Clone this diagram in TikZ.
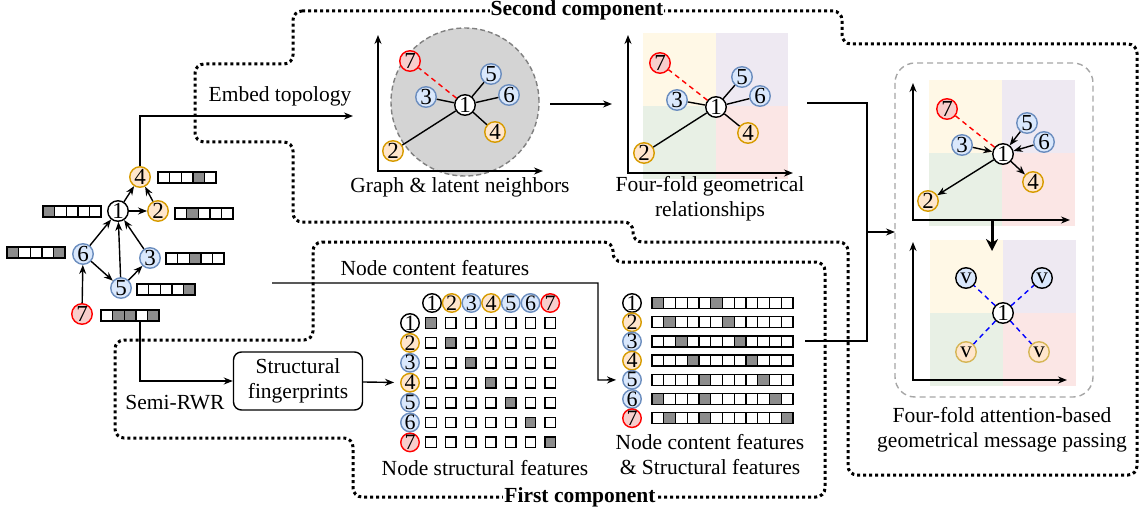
\documentclass[tikz,border=0pt]{standalone}
\usepackage{fontspec}
\setmainfont{Liberation Serif}
\usetikzlibrary{arrows.meta}
\definecolor{ofill}{HTML}{FFE6CC}
\definecolor{oline}{HTML}{D79B00}
\definecolor{bfill}{HTML}{DAE8FC}
\definecolor{bline}{HTML}{6C8EBF}
\definecolor{rfill}{HTML}{F8CECC}
\definecolor{vline}{HTML}{D6B656}
\definecolor{qyel}{HTML}{FFF8E6}
\definecolor{qpur}{HTML}{EEE9F2}
\definecolor{qgrn}{HTML}{E8F0E5}
\definecolor{qred}{HTML}{FBE6E5}
\definecolor{cgray}{HTML}{8C8C8C}

\begin{document}
\begin{tikzpicture}[x=1pt, y=-1pt, >={Stealth[length=9pt,width=7pt]},
  every node/.style={font=\fontsize{21.5}{25}\selectfont},
  nd/.style={circle, draw, line width=1.4pt, inner sep=0pt, minimum size=20.5pt,
    font=\fontsize{23}{25}\selectfont},
  nw/.style={nd, fill=white},
  no/.style={nd, fill=ofill, draw=oline},
  nb/.style={nd, fill=bfill, draw=bline},
  nr/.style={nd, fill=rfill, draw=red},
  vb/.style={nd, fill=bfill, draw=black},
  vo/.style={nd, fill=ofill, draw=vline},
  tight/.style={minimum size=18.5pt, font=\fontsize{22}{24}\selectfont},
  edge/.style={line width=1.4pt},
  latent/.style={red, line width=1.4pt, dash pattern=on 5pt off 4pt},
  attn/.style={blue, line width=1.4pt, dash pattern=on 5pt off 4pt},
  cellbox/.style={line width=1.4pt},
  border/.style={line width=3pt, dash pattern=on 3pt off 3pt, rounded corners=9pt},
  ttl/.style={fill=white, inner sep=1pt, font=\fontsize{21.5}{25}\selectfont\bfseries},
]
\useasboundingbox (0,0) rectangle (1140,516);

% component borders
\draw[border] (293,11) -- (842,11) -- (842,44) -- (1137,44) -- (1137,475) -- (848,475)
  -- (848,242) -- (633,242) -- (633,222) -- (293,222) -- (293,142) -- (195,142)
  -- (195,64) -- (293,64) -- cycle;
\draw[border] (313,242) -- (613,242) -- (613,262) -- (825,262) -- (825,497) -- (353,497)
  -- (353,438) -- (115,438) -- (115,340) -- (313,340) -- cycle;
\node[ttl] (sc) at (577,10) {Second component};
\node[ttl] (fc) at (580,497) {First component};

% input graph
\node[nw] (g1) at (118,211) {1};
\node[no] (g2) at (158,211) {2};
\node[nb] (g3) at (150,258) {3};
\node[no] (g4) at (140,177) {4};
\node[nb] (g5) at (121,288) {5};
\node[nb] (g6) at (83,254) {6};
\node[nr] (g7) at (82,314) {7};
\foreach \a/\b in {g1/g4, g2/g4, g1/g2, g6/g1, g5/g1, g3/g1, g6/g5, g5/g3, g7/g6}
  \draw[edge,->] (\a) -- (\b);
% feature bars
\foreach \bx/\by/\g in {158/172/3, 43/206/0, 175/208/1, 7/247/0, 7/247/4, 166/253/2,
  137/284/4, 101/310/1, 101/310/2, 101/310/4}
  \fill[cgray] ({\bx+\g*11.6},\by) rectangle ++(11.6,11);
\foreach \bx/\by in {158/172, 43/206, 175/208, 7/247, 166/253, 137/284, 101/310}
  \foreach \i in {0,...,4}
    \draw[cellbox] ({\bx+\i*11.6},\by) rectangle ++(11.6,11);

% embed topology
\coordinate (et) at (353,116);
\draw[edge,->] (g4) |- (et);
\node (etl) at (280,96) {Embed topology};

% graph & latent neighbors
\fill[black!17] (465,102) circle (74pt);
\draw[gray, line width=1.4pt, dash pattern=on 5pt off 3pt] (465,102) circle (74pt);
\coordinate (ao) at (378,171);
\draw[edge,<->] (378,35) -- (ao) -- (543,171);
\node[nw] (a1) at (465,105) {1};
\node[no] (a2) at (393,151) {2};
\node[nb] (a3) at (426,97) {3};
\node[no] (a4) at (495,132) {4};
\node[nb] (a5) at (491,74) {5};
\node[nb] (a6) at (509,95) {6};
\node[nr] (a7) at (410,61) {7};
\foreach \b in {a2,a3,a4,a5,a6}
  \draw[edge] (a1) -- (\b);
\draw[latent] (a1) -- (a7);
\node (gln) at (460,187) {Graph \& latent neighbors};

\coordinate (p1) at (550,104);
\coordinate (p2) at (612,104);
\draw[edge,->] (p1) -- (p2);

% four-fold geometrical relationships
\fill[qyel] (643,33) rectangle (716,106);
\fill[qpur] (716,33) rectangle (788,106);
\fill[qgrn] (643,106) rectangle (716,179);
\fill[qred] (716,106) rectangle (788,179);
\coordinate (bo) at (628,173);
\draw[edge,<->] (628,35) -- (bo) -- (793,173);
\node[nw] (f1) at (716,107) {1};
\node[no] (f2) at (644,153) {2};
\node[nb] (f3) at (677,100) {3};
\node[no] (f4) at (748,133) {4};
\node[nb] (f5) at (742,77) {5};
\node[nb] (f6) at (760,96) {6};
\node[nr] (f7) at (660,63) {7};
\foreach \b in {f2,f3,f4,f5,f6}
  \draw[edge] (f1) -- (\b);
\draw[latent] (f1) -- (f7);
\node[align=center] (ffg) at (710,199) {Four-fold geometrical\\relationships};

% merge into message passing
\coordinate (ff) at (807,103);
\coordinate (cf) at (805,341);
\coordinate (mid) at (867,232);
\coordinate (rb) at (895,232);
\draw[edge] (ff) -| (mid) |- (cf);
\draw[edge,->] (mid) -- (rb);

% message passing panel
\draw[gray!70, line width=1.4pt, dash pattern=on 6pt off 4pt, rounded corners=20pt]
  (895,63) rectangle (1093,397);
\fill[qyel] (929,80) rectangle (1002,153);
\fill[qpur] (1002,80) rectangle (1075,153);
\fill[qgrn] (929,153) rectangle (1002,226);
\fill[qred] (1002,153) rectangle (1075,226);
\coordinate (co) at (913,220);
\draw[edge,<->] (913,83) -- (co) -- (1070,220);
\node[nw] (r1) at (1003,154) {1};
\node[no] (r2) at (928,201) {2};
\node[nb] (r3) at (962,145) {3};
\node[no] (r4) at (1033,182) {4};
\node[nb] (r5) at (1027,123) {5};
\node[nb] (r6) at (1044,142) {6};
\node[nr] (r7) at (947,109) {7};
\foreach \a/\b in {r3/r1, r5/r1, r6/r1, r1/r4, r1/r2}
  \draw[edge,->] (\a) -- (\b);
\draw[latent] (r1) -- (r7);

\fill[qyel] (930,240) rectangle (1003,313);
\fill[qpur] (1003,240) rectangle (1076,313);
\fill[qgrn] (930,313) rectangle (1003,386);
\fill[qred] (1003,313) rectangle (1076,386);
\coordinate (do) at (913,380);
\draw[edge,<->] (913,242) -- (do) -- (1067,380);
\node[vb] (v1) at (966,278) {v};
\node[vb] (v2) at (1042,278) {v};
\node[vo] (v3) at (966,352) {v};
\node[vo] (v4) at (1039,352) {v};
\node[nw] (c1) at (1003,313) {1};
\foreach \b in {v1,v2,v3,v4}
  \draw[attn] (c1) -- (\b);
\node[align=center] (gmp) at (1002,430) {Four-fold attention-based\\geometrical message passing};

\coordinate (d1) at (992,221);
\coordinate (d2) at (992,251);
\draw[line width=3pt, -{Stealth[length=12pt,width=12pt]}] (d1) -- (d2);

% structural fingerprints
\node[draw, rounded corners=8pt, line width=1.4pt, align=center, minimum width=129pt,
  minimum height=58pt, inner sep=2pt] (sf) at (298,381) {Structural\\fingerprints};
\coordinate (b7) at (140,322);
\draw[edge,->] (b7) |- (sf);
\node (rwr) at (175,403) {Semi-RWR};

% node labels of both matrices
\foreach \n/\s in {1/nw, 2/no, 3/nb, 4/no, 5/nb, 6/nb, 7/nr} {
  \node[\s, tight] (h\n) at ({432+19.7*(\n-1)},303) {\n};
  \node[\s, tight] (s\n) at (410,{323+19.9*(\n-1)}) {\n};
  \node[\s, tight] (t\n) at (632,{303+19.2*(\n-1)}) {\n};
}
\draw[edge,->, shorten >=6pt] (sf) -- (s4);

% structural features matrix
\foreach \i in {1,...,7}
  \foreach \j in {1,...,7}
    \draw[cellbox] ({431+19.9*(\j-1)-5.25},{323+19.9*(\i-1)-5.25}) rectangle ++(10.5,10.5);
\foreach \i in {1,...,7}
  \filldraw[cellbox, fill=cgray] ({431+19.9*(\i-1)-5.25},{323+19.9*(\i-1)-5.25}) rectangle ++(10.5,10.5);
\node (nsf) at (485,468) {Node structural features};

% content + structural features
\foreach \i/\g in {1/0, 1/5, 2/1, 2/6, 3/2, 3/7, 4/3, 4/8, 5/4, 5/9, 6/0, 6/4, 6/10, 7/1, 7/4, 7/11}
  \fill[cgray] ({652+11.75*\g},{303+19.2*(\i-1)-5.5}) rectangle ++(11.75,11);
\foreach \i in {1,...,7}
  \foreach \g in {0,...,11}
    \draw[cellbox] ({652+11.75*\g},{303+19.2*(\i-1)-5.5}) rectangle ++(11.75,11);
\node[align=center] (ncs) at (710,455) {Node content features\\\& Structural features};

\coordinate (nc) at (272,283);
\coordinate (ck) at (598,380);
\draw[edge,->, shorten >=6pt] (nc) -| (ck) -- (t5);
\node (ncf) at (435,268) {Node content features};
\end{tikzpicture}
\end{document}
